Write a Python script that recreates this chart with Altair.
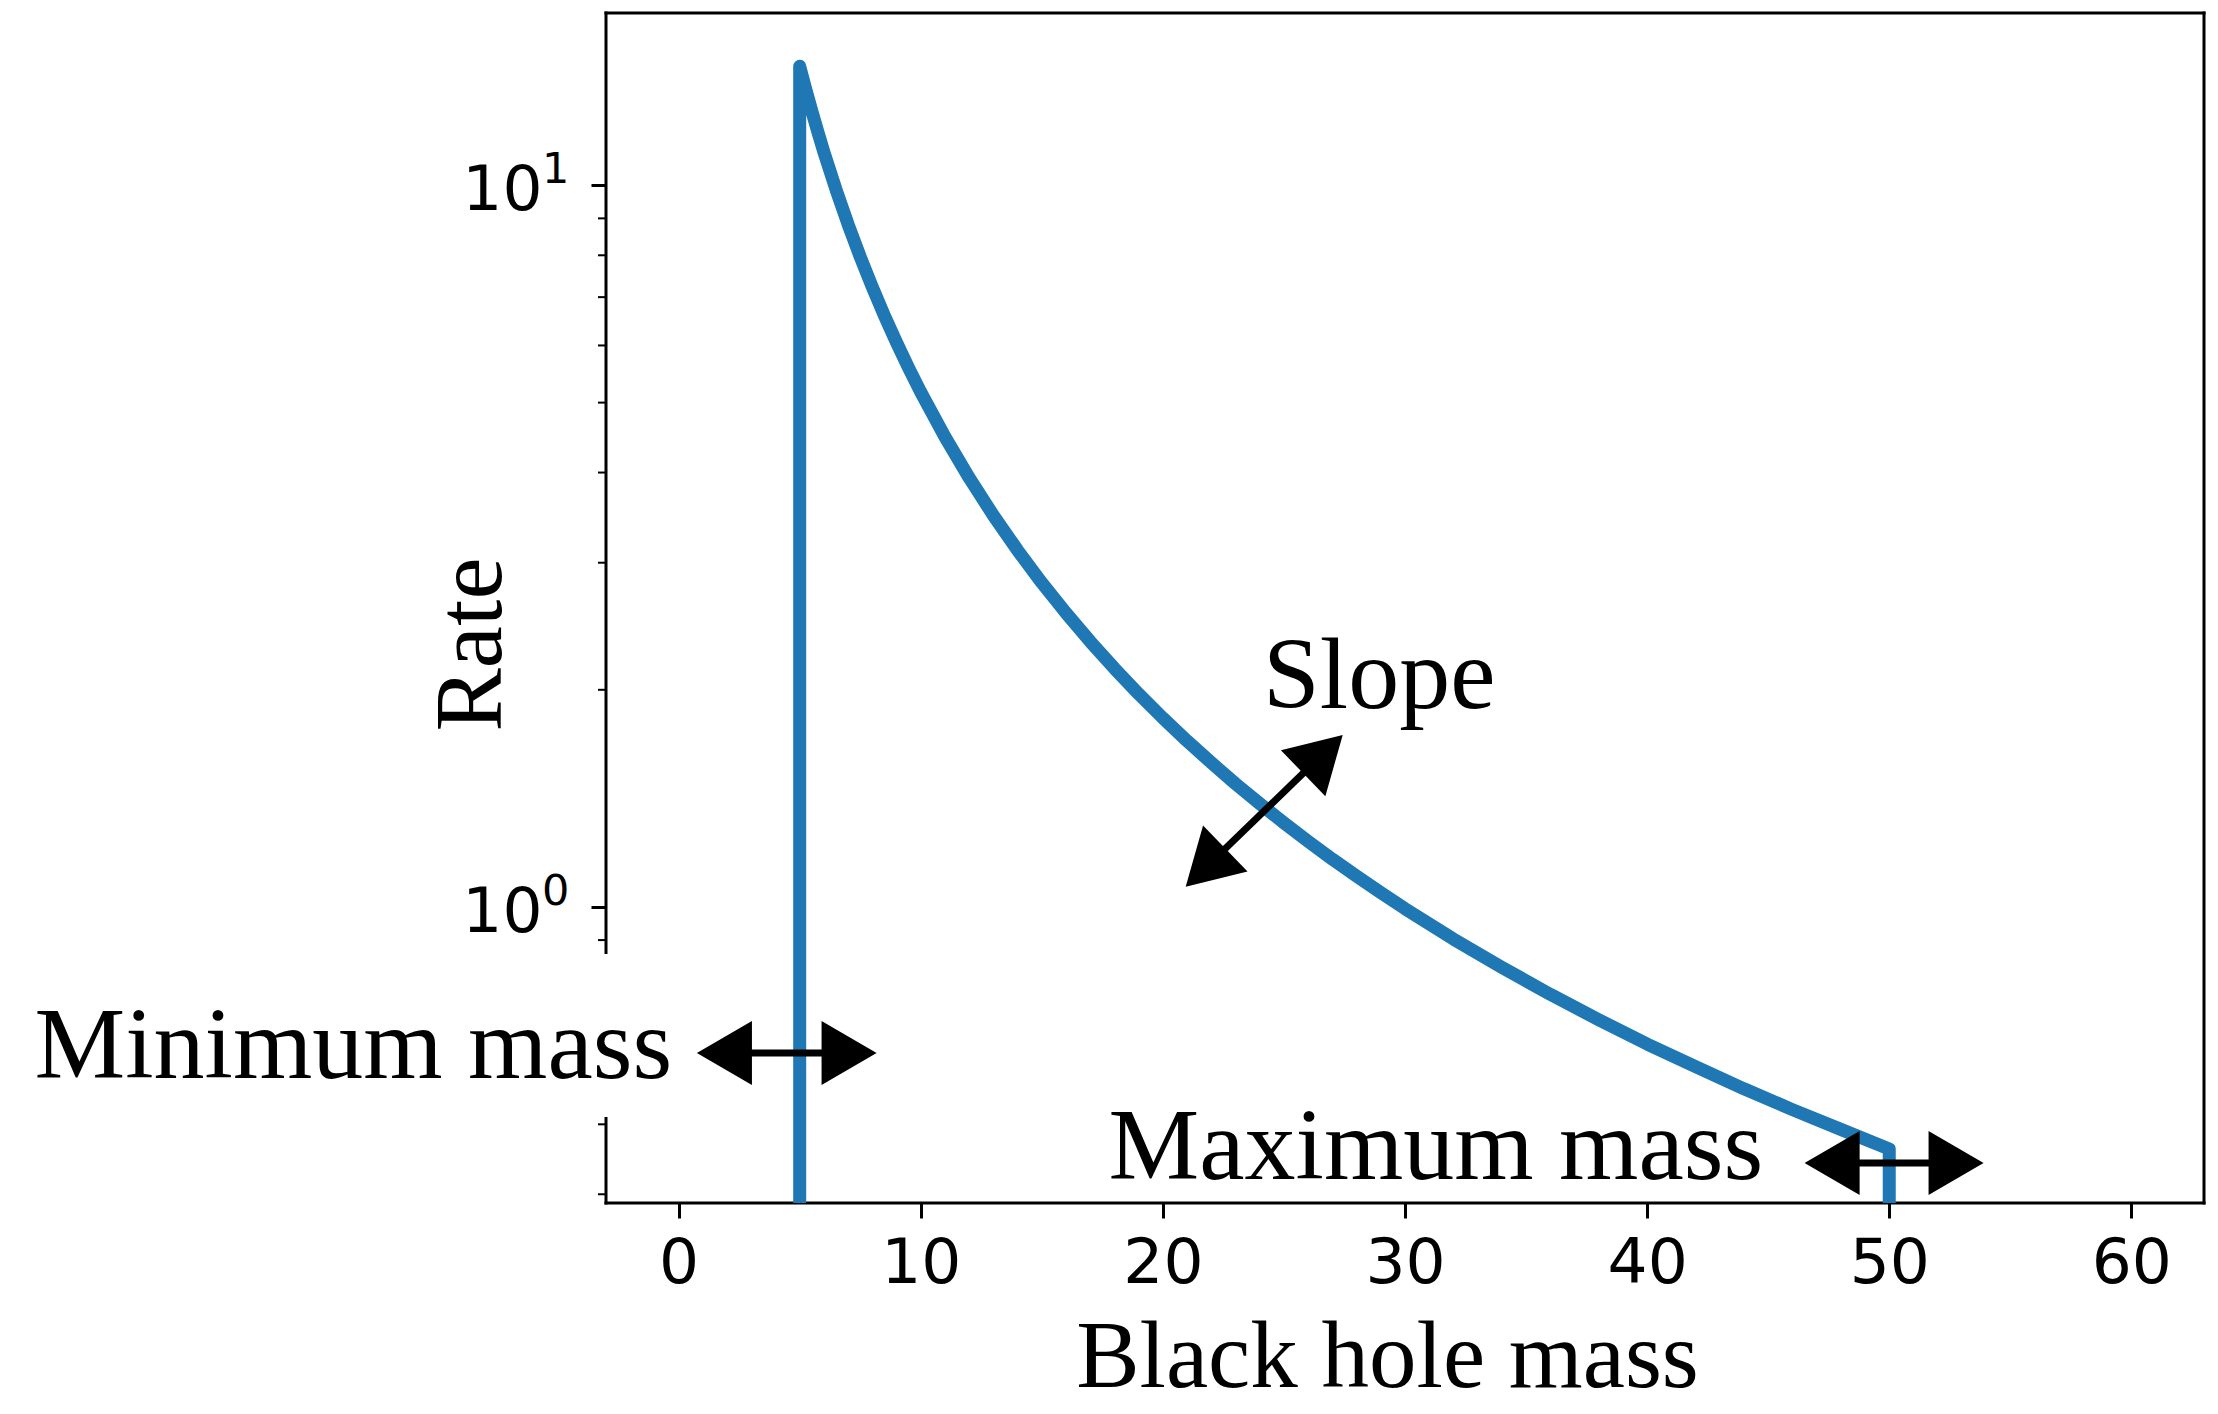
import altair as alt
import pandas as pd

# ---------------- data ----------------
mass = [5, 5, 5.25, 5.5, 5.75, 6, 6.5, 7, 7.5, 8, 8.5, 9, 9.5, 10, 11, 12, 13,
        14, 15, 16, 17, 18, 19, 20, 21, 22, 23, 24, 25, 26, 27, 28, 29, 30,
        32, 34, 36, 38, 40, 42, 44, 46, 48, 50, 50]
rate = [0.1, 14.62, 13.59, 12.68, 11.86, 11.12, 9.866, 8.828, 7.960, 7.226,
        6.598, 6.056, 5.584, 5.170, 4.482, 3.933, 3.488, 3.121, 2.814, 2.555,
        2.333, 2.141, 1.974, 1.828, 1.699, 1.585, 1.482, 1.391, 1.308, 1.233,
        1.165, 1.104, 1.047, 0.995, 0.903, 0.825, 0.757, 0.698, 0.646, 0.601,
        0.560, 0.524, 0.492, 0.462, 0.1]

x_ticks = [0, 10, 20, 30, 40, 50, 60]
y_major = [1, 10]
y_major_exp = ["0", "1"]
y_minor = [0.4, 0.5, 0.6, 0.7, 0.8, 0.9, 2, 3, 4, 5, 6, 7, 8, 9]

ann_text = ["Minimum mass", "Maximum mass", "Slope"]
ann_x = [-0.27, 44.79, 24.14]
ann_y = [0.580, 0.420, 1.887]

arrow_x1 = [1.89, 47.64, 21.76]
arrow_y1 = [0.628, 0.442, 1.134]
arrow_x2 = [7.04, 52.76, 26.61]
arrow_y2 = [0.628, 0.442, 1.629]
head1_angle = [180, 180, 136]
head2_angle = [0, 0, 316]

box_x = [-28, 0.5]
box_y = [0.512, 0.861]

# ---------------- layout / style ----------------
W, H = 1598, 1190
SERIF = "Liberation Serif"
SANS = "DejaVu Sans"
BLUE = "#1f77b4"
HEAD = "M0.86,0 L-0.86,-1 L-0.86,1 Z"

xs = alt.Scale(domain=[-3, 63], nice=False, zero=False)
ys = alt.Scale(type="log", domain=[0.389, 17.33], nice=False)

line_df = pd.DataFrame({"mass": mass, "rate": rate, "i": list(range(len(mass)))})

x_axis = alt.Axis(
    values=x_ticks, title="Black hole mass", domain=False, grid=False,
    tickSize=15, tickWidth=3, tickColor="black", labelFlush=False,
    labelFont=SANS, labelFontSize=63, labelColor="black", labelPadding=14,
    titleFont=SERIF, titleFontSize=95, titleFontWeight="normal", titleColor="black",
    titleX=781, titleY=183, titleAlign="center", titleBaseline="alphabetic",
)
y_axis = alt.Axis(
    values=y_major, title="Rate", domain=False, grid=False,
    tickSize=15, tickWidth=3, tickColor="black",
    labelExpr="'10'",
    labelFont=SANS, labelFontSize=63, labelColor="black", labelPadding=49,
    labelBaseline="alphabetic", labelOffset=24,
    titleFont=SERIF, titleFontSize=95, titleFontWeight="normal", titleColor="black",
    titleAngle=270, titleX=-106, titleY=631, titleAlign="center",
    titleBaseline="alphabetic",
)


def X(field):
    return alt.X(field, scale=xs, axis=x_axis)


def Y(field):
    return alt.Y(field, scale=ys, axis=y_axis)


one = pd.DataFrame({"k": [0]})

# frame (four spines)
sides = [
    dict(x=alt.value(0), x2=alt.value(W), y=alt.value(0)),
    dict(x=alt.value(0), x2=alt.value(W), y=alt.value(H)),
    dict(x=alt.value(0), y=alt.value(0), y2=alt.value(H)),
    dict(x=alt.value(W), y=alt.value(0), y2=alt.value(H)),
]
frame = [alt.Chart(one).mark_rule(color="black", strokeWidth=3, strokeCap="square").encode(**s)
         for s in sides]

minor = alt.Chart(pd.DataFrame({"v": y_minor})).mark_rule(color="black", strokeWidth=2).encode(
    y=Y("v:Q"),
    x=alt.value(-8), x2=alt.value(0),
)

# superscript exponents of the y tick labels (10^0, 10^1)
sup = alt.Chart(pd.DataFrame({"v": y_major, "s": y_major_exp})).mark_text(
    font=SANS, fontSize=43, align="left", baseline="alphabetic", dy=-2, color="black"
).encode(
    y=Y("v:Q"), x=alt.value(-64), text="s:N",
)

box = alt.Chart(pd.DataFrame({"x": [box_x[0]], "x2": [box_x[1]],
                              "y": [box_y[0]], "y2": [box_y[1]]})).mark_rect(color="white").encode(
    x=X("x:Q"), x2="x2:Q",
    y=Y("y:Q"), y2="y2:Q",
)

line = alt.Chart(line_df).mark_line(
    color=BLUE, strokeWidth=13, strokeCap="round", strokeJoin="round", clip=True
).encode(
    x=X("mass:Q"),
    y=Y("rate:Q"),
    order=alt.Order("i:Q"),
)

arr_df = pd.DataFrame({"x1": arrow_x1, "y1": arrow_y1, "x2": arrow_x2, "y2": arrow_y2})
shafts = alt.Chart(arr_df).mark_rule(color="black", strokeWidth=7).encode(
    x=X("x1:Q"), x2="x2:Q",
    y=Y("y1:Q"), y2="y2:Q",
)

heads_df = pd.DataFrame({
    "hx": arrow_x1 + arrow_x2,
    "hy": arrow_y1 + arrow_y2,
    "ha": head1_angle + head2_angle,
})
heads = alt.Chart(heads_df).mark_point(
    shape=HEAD, filled=True, size=4096, color="black", opacity=1, strokeWidth=0
).encode(
    x=X("hx:Q"),
    y=Y("hy:Q"),
    angle=alt.Angle("ha:Q", scale=None),
)

ann_df = pd.DataFrame({"t": ann_text, "x": ann_x, "y": ann_y})
text_right = alt.Chart(ann_df.iloc[:2]).mark_text(
    font=SERIF, fontSize=102, align="right", baseline="alphabetic", color="black"
).encode(
    x=X("x:Q"), y=Y("y:Q"), text="t:N",
)
text_left = alt.Chart(ann_df.iloc[2:]).mark_text(
    font=SERIF, fontSize=102, align="left", baseline="alphabetic", color="black"
).encode(
    x=X("x:Q"), y=Y("y:Q"), text="t:N",
)

chart = alt.layer(
    *frame, minor, sup, box, line, shafts, heads, text_right, text_left
).properties(
    width=W, height=H,
    autosize=alt.AutoSizeParams(type="none"),
    padding={"left": 598, "top": 5, "right": 6, "bottom": 203},
    background="white",
).configure_view(stroke=None)

chart.save("out.html", embed_options={"renderer": "svg", "actions": False})
